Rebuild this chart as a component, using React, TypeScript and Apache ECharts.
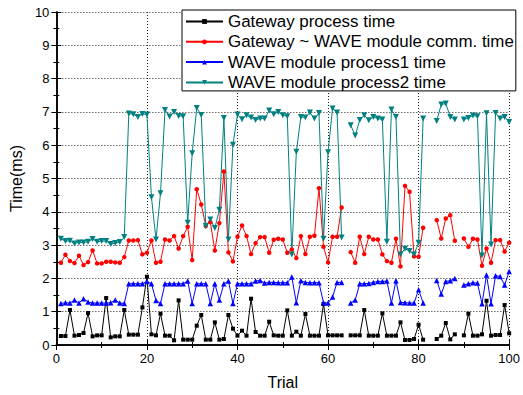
import React, { useEffect, useRef } from "react";
import * as echarts from "echarts";

const trials: number[] = Array.from({ length: 100 }, (_, i) => i + 1);

const seriesNames = [
  "Gateway process time",
  "Gateway ~ WAVE module comm. time",
  "WAVE module process1 time",
  "WAVE module process2 time",
];

const gatewayProcess: (number | null)[] = [
  0.27, 0.27, 1.05, 0.28, 0.3, 0.36, 0.96, 0.26, 0.29, 0.29,
  1.41, 0.23, 0.26, 0.26, 1.05, 0.31, 0.31, 0.31, 1.13, 2.05,
  0.32, 0.29, 0.94, 0.28, 0.28, 0.14, 1.34, 0.16, 0.16, 0.16,
  0.58, 0.9, 0.16, 0.16, 0.68, 0.16, 0.18, 0.9, 0.49, 0.28,
  0.43, 0.28, 1.39, 0.39, 0.28, 0.28, 0.7, 0.29, 0.28, 0.28,
  1.04, 0.28, 0.4, 0.28, 0.93, 0.28, 0.28, 0.28, 1.23, 0.29,
  0.29, 0.29, 0.29, null, 0.29, 0.29, 0.29, 1.05, 0.28, 0.28,
  0.28, 0.95, 0.28, 0.28, 0.28, 0.68, 0.15, 0.15, 0.18, 0.61,
  0.16, null, null, 0.18, 0.28, 0.66, 0.17, 0.32, null, 0.29,
  0.94, 0.28, 0.28, 0.32, 1.33, 0.28, 0.3, 0.3, 1.2, 0.35,
];

const commTime: (number | null)[] = [
  2.47, 2.71, 2.52, 2.46, 2.68, 2.4, 2.49, 2.84, 2.45, 2.45,
  2.5, 2.5, 2.48, 2.47, 2.64, 3.14, 3.14, 3.15, 2.72, 2.77,
  3.14, 2.47, 2.5, 3.17, 3.14, 3.27, 2.9, 3.27, 3.55, 2.55,
  4.68, 4.22, 3.57, 3.69, 2.84, 3.66, 5.21, 2.78, 2.51, 3.25,
  3.59, 3.27, 2.73, 3.06, 3.24, 3.24, 2.77, 3.16, 3.19, 3.17,
  2.77, 2.87, 2.61, 3.27, 2.73, 3.25, 3.28, 4.71, 2.95, 2.48,
  3.25, 3.25, 4.13, null, 2.79, 2.47, 3.25, 2.73, 3.25, 3.17,
  3.17, 2.72, 2.52, 2.47, 3.19, 2.36, 4.78, 4.6, 2.66, 2.65,
  3.52, null, null, 3.75, 3.2, 3.8, 3.9, 3.13, null, 3.2,
  2.95, 3.19, 3.17, 2.38, 2.9, 2.47, 3.15, 3.15, 2.81, 3.07,
];

const process1: (number | null)[] = [
  1.25, 1.27, 1.26, 1.35, 1.26, 1.39, 1.29, 1.26, 1.26, 1.26,
  1.26, 1.27, 1.35, 1.26, 1.25, 1.84, 1.84, 1.84, 1.84, 1.91,
  1.84, 1.34, 1.25, 1.84, 1.84, 1.84, 1.84, 1.84, 1.92, 1.25,
  1.84, 1.84, 1.84, 1.25, 1.84, 1.35, 1.84, 1.92, 1.25, 1.84,
  1.84, 1.84, 1.84, 1.92, 1.94, 1.86, 1.88, 1.88, 1.87, 1.87,
  1.87, 2.04, 1.27, 1.93, 1.88, 1.87, 1.87, 1.87, 1.27, 1.26,
  1.44, 1.88, 1.88, null, 1.26, 1.35, 1.84, 1.84, 1.85, 1.88,
  1.91, 1.91, 1.92, 1.26, 1.93, 1.28, 1.27, 1.26, 1.26, 1.66,
  1.26, null, null, 1.94, 1.53, 1.91, 1.93, 2.0, null, 1.8,
  1.84, 1.87, 1.86, 1.24, 2.1, 1.24, 2.08, 2.06, 1.8, 2.21,
];

const process2: (number | null)[] = [
  3.19, 3.12, 3.13, 3.05, 3.08, 3.08, 3.1, 3.18, 3.1, 3.12,
  3.12, 3.03, 3.06, 3.09, 3.24, 6.95, 6.93, 6.85, 6.94, 6.92,
  4.44, 3.17, 4.56, 7.06, 6.86, 7.0, 6.88, 6.87, 3.67, 5.76,
  7.12, 6.91, 3.57, 3.77, 3.51, 4.06, 6.82, 3.17, 6.01, 6.92,
  6.78, 6.9, 6.83, 6.76, 6.8, 6.8, 7.04, 6.93, 7.0, 6.9,
  6.87, 2.72, 5.8, 6.85, 6.83, 6.98, 6.8, 6.97, 3.19, 5.79,
  7.1, 6.98, 3.23, null, 6.6, 6.29, 6.76, 6.9, 6.75, 6.85,
  6.8, 6.77, 3.1, 7.07, 6.85, 2.72, 2.89, 2.82, 2.72, 3.07,
  6.8, null, null, 6.73, 7.22, 7.25, 6.85, 6.77, null, 6.77,
  6.82, 6.89, 6.87, 2.69, 6.96, 3.02, 6.97, 6.8, 6.85, 6.7,
];

const xTicks = { min: 0, max: 100, interval: 20 };
const yTicks = { min: 0, max: 10, interval: 1 };

const FONT = "'Liberation Sans', Arial, sans-serif";

function toData(values: (number | null)[]) {
  return trials.map((t, i) => [t, values[i] == null ? "-" : values[i]]);
}

export default function App() {
  const ref = useRef<HTMLDivElement>(null);

  useEffect(() => {
    if (!ref.current) return;
    const chart = echarts.init(ref.current, undefined, { renderer: "svg" });

    const axisLine = { show: true, lineStyle: { color: "#000", width: 1.5 } };
    const grid = { type: [1, 2], color: "#222", width: 1 };

    const mkX = (position: "bottom" | "top", main: boolean) => ({
      type: "value",
      position,
      min: xTicks.min,
      max: xTicks.max,
      interval: xTicks.interval,
      axisLine,
      axisTick: { show: true, inside: true, length: 5, lineStyle: { color: "#000", width: 1 } },
      minorTick: { show: true, splitNumber: 2, length: 3, lineStyle: { color: "#000", width: 1 } },
      axisLabel: main
        ? { show: true, color: "#000", fontSize: 13, fontFamily: FONT, margin: 7 }
        : { show: false },
      splitLine: main ? { show: true, lineStyle: grid } : { show: false },
      name: main ? "Trial" : "",
      nameLocation: "middle",
      nameGap: 29,
      nameTextStyle: { color: "#000", fontSize: 16, fontFamily: FONT },
    });

    const mkY = (position: "left" | "right", main: boolean) => ({
      type: "value",
      position,
      min: yTicks.min,
      max: yTicks.max,
      interval: yTicks.interval,
      axisLine,
      axisTick: { show: true, inside: true, length: 5, lineStyle: { color: "#000", width: 1 } },
      minorTick: { show: true, splitNumber: 2, length: 3, lineStyle: { color: "#000", width: 1 } },
      axisLabel: main
        ? { show: true, color: "#000", fontSize: 13, fontFamily: FONT, margin: 7 }
        : { show: false },
      splitLine: main ? { show: true, lineStyle: grid } : { show: false },
      name: main ? "Time(ms)" : "",
      nameLocation: "middle",
      nameGap: 29,
      nameRotate: 90,
      nameTextStyle: { color: "#000", fontSize: 16, fontFamily: FONT },
    });

    const mkSeries = (
      name: string,
      values: (number | null)[],
      color: string,
      symbol: string,
      symbolSize: number,
      symbolRotate = 0
    ) => ({
      name,
      type: "line",
      xAxisIndex: 0,
      yAxisIndex: 0,
      data: toData(values),
      symbol,
      symbolSize,
      symbolRotate,
      showSymbol: true,
      connectNulls: false,
      lineStyle: { color, width: 1 },
      itemStyle: { color },
    });

    chart.setOption({
      animation: false,
      backgroundColor: "#fff",
      textStyle: { fontFamily: FONT },
      grid: { left: 54, right: 12, top: 12, bottom: 47 },
      xAxis: [mkX("bottom", true), mkX("top", false)],
      yAxis: [mkY("left", true), mkY("right", false)],
      legend: {
        show: true,
        orient: "vertical",
        left: 182,
        top: 10,
        data: seriesNames,
        itemWidth: 37,
        itemHeight: 6,
        itemGap: 3.3,
        padding: [3, 2, 0, 3],
        backgroundColor: "#fff",
        borderColor: "#000",
        borderWidth: 1,
        borderRadius: 0,
        textStyle: { color: "#000", fontSize: 16.9, fontFamily: FONT, lineHeight: 17 },
      },
      series: [
        mkSeries(seriesNames[0], gatewayProcess, "#000000", "rect", 4),
        mkSeries(seriesNames[1], commTime, "#ff0000", "circle", 4.5),
        mkSeries(seriesNames[2], process1, "#0000ff", "triangle", 5.5),
        mkSeries(seriesNames[3], process2, "#008080", "triangle", 6, 180),
      ],
    });

    return () => chart.dispose();
  }, []);

  return (
    <div
      ref={ref}
      style={{ position: "fixed", left: 0, top: 0, width: 523, height: 395, background: "#fff" }}
    />
  );
}
